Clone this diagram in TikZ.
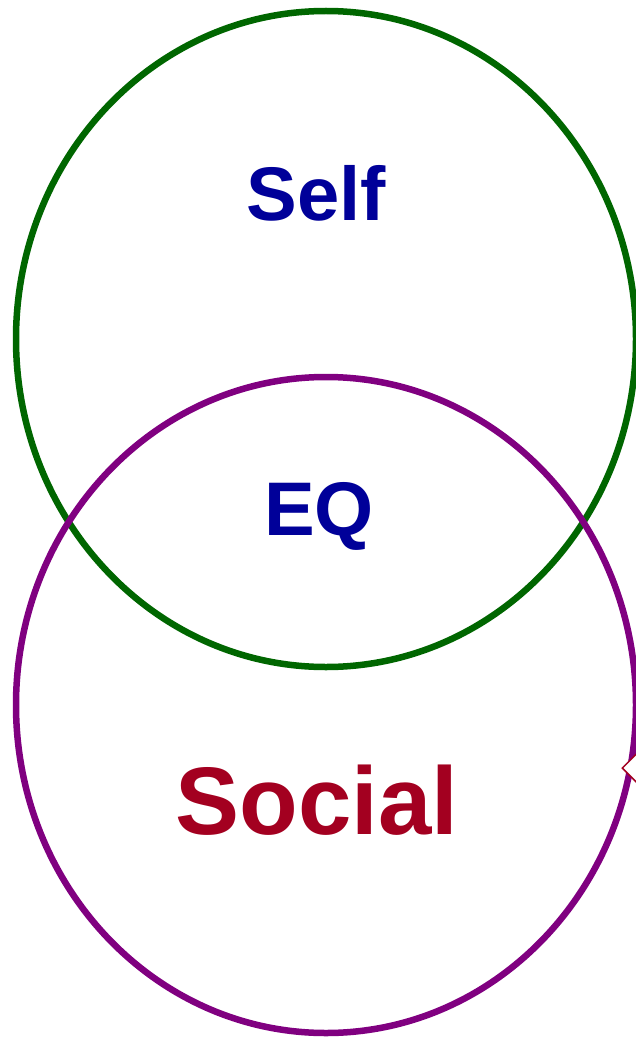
\documentclass[tikz,border=0pt]{standalone}
\usepackage{fontspec}
\setmainfont{Liberation Sans}
\usetikzlibrary{shapes.geometric}
\definecolor{selfgreen}{RGB}{0,102,0}
\definecolor{socialpurple}{RGB}{128,0,128}
\definecolor{darkblue}{RGB}{0,0,153}
\definecolor{darkred}{RGB}{163,0,32}

\tikzset{
	ring/.style={line width=6.5pt},
	label/.style={font=\bfseries, inner sep=0pt}
}

\begin{document}
\begin{tikzpicture}[x=1pt,y=-1pt]
		\useasboundingbox (0,0) rectangle (636,1038);
		\coordinate (c_self) at (326,339);
		\coordinate (c_social) at (326,705);
		\coordinate (mark) at (641,768);
		\draw[ring,color=selfgreen] (c_self) ellipse [x radius=310, y radius=328];
		\draw[ring,color=socialpurple] (c_social) ellipse [x radius=310, y radius=328];
		\node[label,text=darkblue,font=\bfseries\fontsize{76}{76}\selectfont] (Self) at (316,193) {Self};
		\node[label,text=darkblue,font=\bfseries\fontsize{76}{76}\selectfont] (EQ) at (319,516) {EQ};
		\node[label,text=darkred,font=\bfseries\fontsize{96}{96}\selectfont] (Social) at (317,800) {Social};
		\node[draw=darkred,fill=white,diamond,line width=1.5pt,minimum size=38pt] (Marker) at (mark) {};
	\end{tikzpicture}
\end{document}
